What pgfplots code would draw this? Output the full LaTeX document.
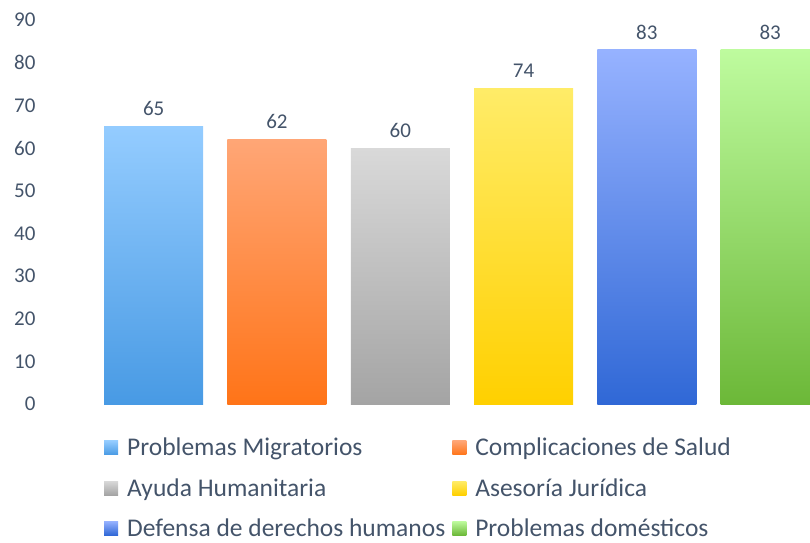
\documentclass[border=0pt]{standalone}
\usepackage{fontspec}
\setmainfont{Carlito}
\usepackage{pgfplots}
\pgfplotsset{compat=1.18}

\definecolor{txt}{RGB}{68,84,106}
\newcommand{\cf}{\fontsize{21}{25}\selectfont}
\newcommand{\lf}{\fontsize{25.5}{30}\selectfont}

\begin{document}
\begin{tikzpicture}
\begin{axis}[
    at={(92pt,138pt)}, anchor=south west,
    scale only axis,
    width=718pt, height=384pt,
    xmin=-0.5, xmax=5.323,
    ymin=0, ymax=90,
    ytick={0,10,...,90}, xtick=\empty,
    axis line style={draw=none},
    major tick length=0pt,
    ybar, bar width=99pt, bar shift=0pt,
    clip mode=individual,
    /pgf/number format/assume math mode=true,
    tick label style={font=\cf, text=txt},
    yticklabel style={anchor=east, xshift=-53pt},
    nodes near coords,
    every node near coord/.append style={font=\cf, text=txt, yshift=7pt},
    legend columns=2,
    legend cell align=left,
    legend style={draw=none, fill=none, font=\lf, text=txt,
        at={(0,0)}, anchor=north west, xshift=9pt, yshift=-30pt,
        row sep=17pt,
        /tikz/every odd column/.append style={column sep=7pt},
        /tikz/column 2/.style={column sep=5pt}},
    legend image code/.code={\path[#1,draw=none] (0pt,-7pt) rectangle (14pt,7pt);},
]
\addplot[draw=none, top color={rgb,255:red,148;green,204;blue,255}, bottom color={rgb,255:red,72;green,154;blue,228}] coordinates {(0,65)};
\addplot[draw=none, top color={rgb,255:red,255;green,166;blue,118}, bottom color={rgb,255:red,255;green,116;blue,24}] coordinates {(1,62)};
\addplot[draw=none, top color={rgb,255:red,217;green,217;blue,217}, bottom color={rgb,255:red,164;green,164;blue,164}] coordinates {(2,60)};
\addplot[draw=none, top color={rgb,255:red,255;green,236;blue,104}, bottom color={rgb,255:red,255;green,208;blue,0}] coordinates {(3,74)};
\addplot[draw=none, top color={rgb,255:red,150;green,178;blue,255}, bottom color={rgb,255:red,48;green,104;blue,214}] coordinates {(4,83)};
\addplot[draw=none, top color={rgb,255:red,190;green,251;blue,158}, bottom color={rgb,255:red,108;green,184;blue,56}] coordinates {(5,83)};
\legend{Problemas Migratorios, Complicaciones de Salud, Ayuda Humanitaria, Asesoría Jurídica, Defensa de derechos humanos, Problemas domésticos}
\end{axis}
\pgfresetboundingbox
\path[use as bounding box] (0,0) rectangle (810pt,542pt);
\end{tikzpicture}
\end{document}
